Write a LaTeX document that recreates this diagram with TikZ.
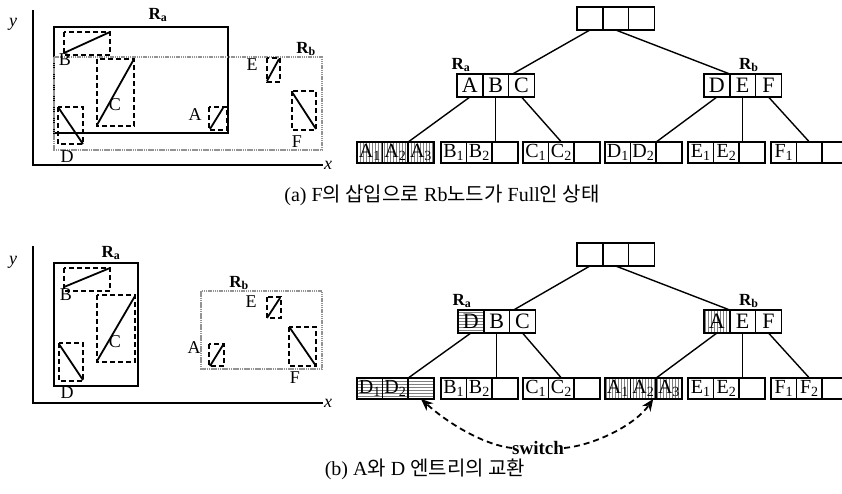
\documentclass[tikz,border=0pt]{standalone}
\usepackage{fontspec}
\setmainfont{Liberation Serif}
\newfontfamily\kr{Noto Sans CJK KR}
\usetikzlibrary{arrows.meta,positioning,patterns}
% three cells of one tree node, left to right
\newcommand{\trio}[6]{%
  \node[#3,anchor=north west] (#11) at (#2) {#4};
  \node[#3,right=0pt of #11] (#12) {#5};
  \node[#3,right=0pt of #12] (#13) {#6};}

\begin{document}
\begin{tikzpicture}[
  x=1pt,y=-1pt,
  cell/.style={draw,line width=1.5pt,outer sep=0pt,inner sep=0pt,minimum width=25.6pt,minimum height=21pt,font=\fontsize{20}{20}\selectfont},
  icell/.style={cell,minimum width=25.8pt,minimum height=23pt,font=\fontsize{22}{22}\selectfont},
  vhatch/.style={pattern=vertical lines,pattern color=gray},
  hhatch/.style={pattern=horizontal lines,pattern color=gray},
  treeedge/.style={line width=1.4pt},
  axisline/.style={line width=1.5pt},
  mbra/.style={line width=2.6pt},
  mbrb/.style={gray!85,line width=2.2pt,dash pattern=on 1.5pt off 0.7pt},
  entry/.style={line width=1.6pt,dash pattern=on 5pt off 3pt},
  seg/.style={line width=1.8pt},
  lbl/.style={inner sep=0pt,font=\fontsize{18}{18}\selectfont},
  axlbl/.style={inner sep=0pt,font=\itshape\fontsize{18}{18}\selectfont},
  rlbl/.style={inner sep=0pt,font=\bfseries\fontsize{17}{17}\selectfont},
  captext/.style={inner sep=0pt,font=\fontsize{20}{20}\selectfont},
  swaparc/.style={-{Stealth[length=12pt,width=10pt]},line width=1.8pt,dash pattern=on 6pt off 4pt},
]
\useasboundingbox (0,0) rectangle (842,493);

% (a) space
\draw[axisline] (33,10) -- (33,165) -- (323,165);
\node[axlbl] (ay) at (13,24) {y};
\node[axlbl] (ax) at (328,165) {x};
\draw[mbra] (54,27) rectangle (228,133);
\draw[mbrb] (54,57) rectangle (322,150);
\node[rlbl] (aRa) at (158,15) {R\textsubscript{a}};
\node[rlbl] (aRb) at (306,49) {R\textsubscript{b}};
\draw[entry] (64,32) rectangle (110,55);  \draw[seg] (64,53) -- (110,32);
\draw[entry] (97,59) rectangle (134,126); \draw[seg] (97,125) -- (134,59);
\draw[entry] (58,107) rectangle (83,144); \draw[seg] (58,107) -- (83,144);
\draw[entry] (209,107) rectangle (227,130); \draw[seg] (210,129) -- (223,108);
\draw[entry] (267,58) rectangle (280,82); \draw[seg] (267,81) -- (279,59);
\draw[entry] (292,91) rectangle (316,130); \draw[seg] (292,92) -- (316,129);
\node[lbl] (aB) at (65,60) {B};
\node[lbl] (aC) at (115,105) {C};
\node[lbl] (aD) at (67,157) {D};
\node[lbl] (aA) at (195,115) {A};
\node[lbl] (aE) at (252,65) {E};
\node[lbl] (aF) at (297,142) {F};

% (a) tree
\trio{aroot}{577,7}{icell}{}{}{}
\trio{ara}{457,74}{icell}{A}{B}{C}
\trio{arb}{704,74}{icell}{D}{E}{F}
\node[rlbl,anchor=south] (ara) at ([xshift=4pt,yshift=2pt]ara1.north west) {R\textsubscript{a}};
\node[rlbl,anchor=south] (arb) at ([xshift=6pt,yshift=2pt]arb2.north) {R\textsubscript{b}};
\trio{aLA}{357,142}{cell,vhatch}{A\textsubscript{1}}{A\textsubscript{2}}{A\textsubscript{3}}
\trio{aLB}{441,142}{cell}{B\textsubscript{1}}{B\textsubscript{2}}{}
\trio{aLC}{523,142}{cell}{C\textsubscript{1}}{C\textsubscript{2}}{}
\trio{aLD}{605,142}{cell}{D\textsubscript{1}}{D\textsubscript{2}}{}
\trio{aLE}{688,142}{cell}{E\textsubscript{1}}{E\textsubscript{2}}{}
\trio{aLF}{771,142}{cell}{F\textsubscript{1}}{}{}
\draw[treeedge] (aroot1.south) -- ([xshift=4pt]ara3.north west);
\draw[treeedge] (aroot2.south) -- (arb1.north east);
\draw[treeedge] (ara1.south) -- (aLA3.north west);
\draw[treeedge] (ara2.south) -- (ara2.south |- aLB1.north);
\draw[treeedge] (ara3.south) -- (aLC2.north);
\draw[treeedge] (arb1.south) -- (aLD2.north east);
\draw[treeedge] (arb2.south) -- (arb2.south |- aLE1.north);
\draw[treeedge] (arb3.south) -- (aLF2.north);
\node[captext] (capa) at (442,195) {(a) F{\kr 의 삽입으로} Rb{\kr 노드가} Full{\kr 인 상태}};

% (b) space
\draw[axisline] (33,246) -- (33,403) -- (323,403);
\node[axlbl] (by) at (13,262) {y};
\node[axlbl] (bx) at (328,403) {x};
\draw[mbra] (54,263) rectangle (138,386);
\draw[mbrb] (201,291) rectangle (322,369);
\node[rlbl] (bRa) at (111,253) {R\textsubscript{a}};
\node[rlbl] (bRb) at (239,283) {R\textsubscript{b}};
\draw[entry] (64,268) rectangle (110,291); \draw[seg] (64,287) -- (110,268);
\draw[entry] (97,295) rectangle (135,362); \draw[seg] (97,361) -- (135,296);
\draw[entry] (59,343) rectangle (83,381); \draw[seg] (59,344) -- (83,380);
\draw[entry] (267,297) rectangle (281,318); \draw[seg] (267,318) -- (280,298);
\draw[entry] (209,344) rectangle (224,366); \draw[seg] (210,366) -- (223,345);
\draw[entry] (289,327) rectangle (316,366); \draw[seg] (290,328) -- (316,366);
\node[lbl] (bB) at (66,295) {B};
\node[lbl] (bC) at (115,342) {C};
\node[lbl] (bD) at (67,393) {D};
\node[lbl] (bE) at (251,302) {E};
\node[lbl] (bA) at (194,348) {A};
\node[lbl] (bF) at (295,378) {F};

% (b) tree
\trio{broot}{577,243}{icell}{}{}{}
\node[icell,hhatch,anchor=north west] (bra1) at (458,310) {D};
\node[icell,right=0pt of bra1] (bra2) {B};
\node[icell,right=0pt of bra2] (bra3) {C};
\node[icell,vhatch,anchor=north west] (brb1) at (704,310) {A};
\node[icell,right=0pt of brb1] (brb2) {E};
\node[icell,right=0pt of brb2] (brb3) {F};
\node[rlbl,anchor=south] (bra) at ([xshift=4pt,yshift=2pt]bra1.north west) {R\textsubscript{a}};
\node[rlbl,anchor=south] (brb) at ([xshift=6pt,yshift=2pt]brb2.north) {R\textsubscript{b}};
\trio{bLD}{357,378}{cell,hhatch}{D\textsubscript{1}}{D\textsubscript{2}}{}
\trio{bLB}{441,378}{cell}{B\textsubscript{1}}{B\textsubscript{2}}{}
\trio{bLC}{523,378}{cell}{C\textsubscript{1}}{C\textsubscript{2}}{}
\trio{bLA}{605,378}{cell,vhatch}{A\textsubscript{1}}{A\textsubscript{2}}{A\textsubscript{3}}
\trio{bLE}{688,378}{cell}{E\textsubscript{1}}{E\textsubscript{2}}{}
\trio{bLF}{771,378}{cell}{F\textsubscript{1}}{F\textsubscript{2}}{}
\draw[treeedge] (broot1.south) -- ([xshift=4pt]bra3.north west);
\draw[treeedge] (broot2.south) -- (brb1.north east);
\draw[treeedge] (bra1.south) -- (bLD3.north west);
\draw[treeedge] (bra2.south) -- (bra2.south |- bLB1.north);
\draw[treeedge] (bra3.south) -- (bLC2.north);
\draw[treeedge] (brb1.south) -- (bLA2.north east);
\draw[treeedge] (brb2.south) -- (brb2.south |- bLE1.north);
\draw[treeedge] (brb3.south) -- (bLF2.north);
\node[inner sep=0pt,font=\bfseries\fontsize{19}{19}\selectfont] (sw) at (538,448) {switch};
\draw[swaparc] (sw.west) .. controls (485,445) and (450,425) .. (bLD3.south);
\draw[swaparc] (sw.east) .. controls (595,445) and (635,425) .. ([xshift=-3pt]bLA3.south west);
\node[captext] (capb) at (425,469) {(b) A{\kr 와} D {\kr 엔트리의 교환}};
\end{tikzpicture}
\end{document}
